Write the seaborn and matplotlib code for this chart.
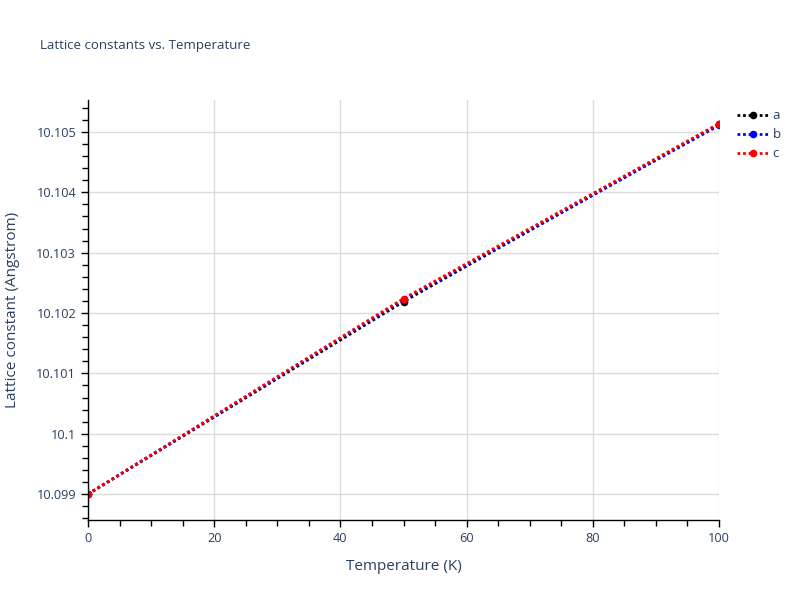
import pandas as pd
import seaborn as sns
import matplotlib.pyplot as plt
from matplotlib.ticker import MultipleLocator, FuncFormatter

# dados
temperatura = [0, 50, 100]
lat_a = [10.09900, 10.10219, 10.10513]
lat_b = [10.09900, 10.10222, 10.10511]
lat_c = [10.09900, 10.10224, 10.10514]
series = ['a', 'b', 'c']
cores = ['black', 'blue', 'red']

dados = pd.DataFrame({
    'Temperature': temperatura * 3,
    'Lattice': lat_a + lat_b + lat_c,
    'serie': [s for s in series for _ in temperatura],
})

sns.set_style('white')
plt.rcParams['font.family'] = ['Open Sans', 'DejaVu Sans']
texto = '#2a3f5f'

fig = plt.figure(figsize=(8, 6), dpi=100)
ax = fig.add_axes([0.11, 0.1333, 0.78875, 0.7])

sns.lineplot(data=dados, x='Temperature', y='Lattice', hue='serie', style='serie',
             palette=cores, dashes=[(1, 1)] * 3, markers=['o'] * 3,
             markersize=5.5, markeredgewidth=0, linewidth=2, ax=ax)

ax.set_xlim(0, 100)
ax.set_ylim(10.09857, 10.10553)
ax.xaxis.set_major_locator(MultipleLocator(20))
ax.xaxis.set_minor_locator(MultipleLocator(5))
ax.yaxis.set_major_locator(MultipleLocator(0.001))
ax.yaxis.set_minor_locator(MultipleLocator(0.0002))
ax.yaxis.set_major_formatter(FuncFormatter(lambda v, p: f'{v:.3f}'.rstrip('0')))

ax.grid(True, which='major', color='#dcdcdc', linewidth=1)
ax.set_axisbelow(True)
for lado in ['top', 'right']:
    ax.spines[lado].set_visible(False)
for lado in ['left', 'bottom']:
    ax.spines[lado].set_color('black')
    ax.spines[lado].set_linewidth(1)

ax.tick_params(which='major', direction='out', length=5, width=1, color='black',
               labelsize=9.2, labelcolor=texto, left=True, bottom=True)
ax.tick_params(which='minor', direction='out', length=4, width=1, color='black',
               left=True, bottom=True)

ax.set_xlabel('Temperature (K)', fontsize=11, color=texto, labelpad=10)
ax.set_ylabel('Lattice constant (Angstrom)', fontsize=11, color=texto, labelpad=12)

fig.text(40 / 800, 1 - 45 / 600, 'Lattice constants vs. Temperature',
         fontsize=9.5, color=texto, va='center', ha='left')

ax.legend(loc='upper left', bbox_to_anchor=(1.02, 0.99), frameon=False,
          fontsize=9.5, labelcolor=texto, handlelength=2.4, handletextpad=0.3,
          labelspacing=0.45, borderaxespad=0)

fig.savefig('out.png', dpi=100)
